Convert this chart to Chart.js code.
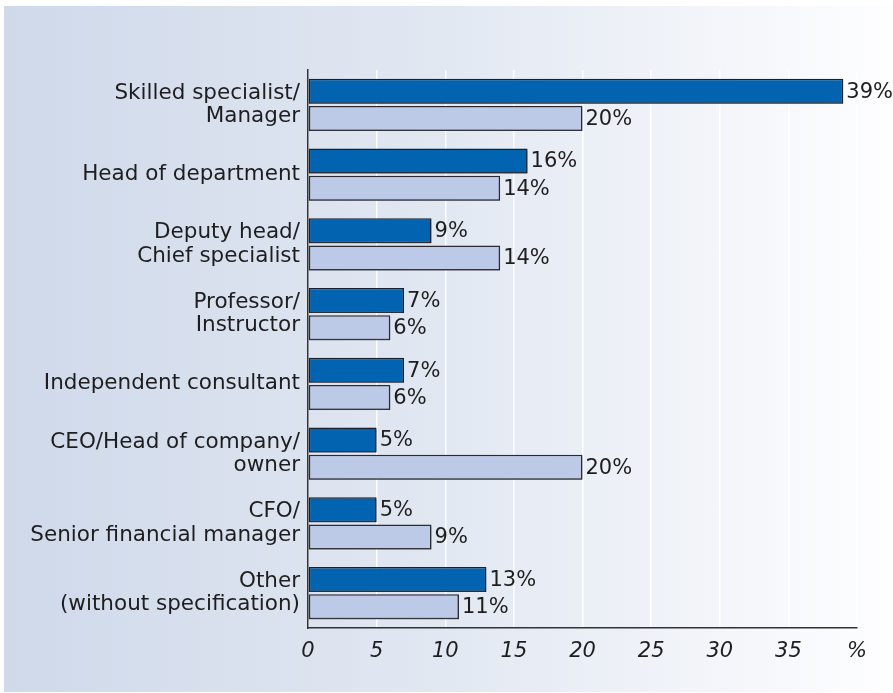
<!DOCTYPE html>
<html lang="en">
<head>
<meta charset="UTF-8">
<title>Position in company</title>
<style>
    body { margin: 0; background: #fff; }
    .panel {
        position: absolute; left: 4px; top: 6px; width: 889px; height: 686px;
        background: linear-gradient(to right, #cfd9ea 0%, #e2e8f2 50%, #fefeff 100%);
    }
    canvas { position: absolute; left: 0; top: 0; }
</style>
</head>
<body>
<div class="panel"></div>
<canvas id="chart" width="893" height="693"></canvas>

<script src="https://cdn.jsdelivr.net/npm/chart.js@4/dist/chart.umd.min.js"></script>
<script>
    const categories = [
        ['Skilled specialist/', 'Manager'],
        'Head of department',
        ['Deputy head/', 'Chief specialist'],
        ['Professor/', 'Instructor'],
        'Independent consultant',
        ['CEO/Head of company/', 'owner'],
        ['CFO/', 'Senior financial manager'],
        ['Other', '(without specification)']
    ];
    const darkValues = [39, 16, 9, 7, 7, 5, 5, 13];
    const lightValues = [20, 14, 14, 6, 6, 20, 9, 11];
    const xTickLabels = ['0', '5', '10', '15', '20', '25', '30', '35', '%'];

    const FONT = '"DejaVu Sans", sans-serif';

    // small drop shadow under the bars
    const barShadow = {
        id: 'barShadow',
        beforeDatasetsDraw(chart) {
            const ctx = chart.ctx;
            ctx.save();
            ctx.shadowColor = 'rgba(60, 60, 70, 0.55)';
            ctx.shadowOffsetX = 0;
            ctx.shadowOffsetY = 2;
            ctx.shadowBlur = 0;
        },
        afterDatasetsDraw(chart) {
            chart.ctx.restore();
        }
    };

    const valueLabels = {
        id: 'valueLabels',
        afterDatasetsDraw(chart) {
            const ctx = chart.ctx;
            ctx.save();
            ctx.font = '21px ' + FONT;
            ctx.fillStyle = '#1e1e1e';
            ctx.textBaseline = 'middle';
            chart.data.datasets.forEach((ds, i) => {
                chart.getDatasetMeta(i).data.forEach((bar, j) => {
                    ctx.fillText(ds.data[j] + '%', bar.x + 3, bar.y + 1);
                });
            });
            ctx.restore();
        }
    };

    new Chart(document.getElementById('chart'), {
        type: 'bar',
        data: {
            labels: categories,
            datasets: [{
                label: 'Series 1',
                data: darkValues,
                backgroundColor: '#0263b0',
                borderColor: '#16202e',
                borderWidth: 1.5,
                borderSkipped: false,
                categoryPercentage: 0.78,
                barPercentage: 0.92
            }, {
                label: 'Series 2',
                data: lightValues,
                backgroundColor: '#bccae8',
                borderColor: '#2a2a30',
                borderWidth: 1.5,
                borderSkipped: false,
                categoryPercentage: 0.78,
                barPercentage: 0.92
            }]
        },
        options: {
            indexAxis: 'y',
            responsive: false,
            animation: false,
            layout: { padding: { top: 70, right: 36, left: 0, bottom: 0 } },
            plugins: {
                legend: { display: false },
                tooltip: { enabled: false }
            },
            scales: {
                x: {
                    min: 0,
                    max: 40,
                    ticks: {
                        stepSize: 5,
                        padding: 11,
                        color: '#1e1e1e',
                        font: { family: FONT, size: 21, style: 'italic' },
                        callback: (v, i) => xTickLabels[i]
                    },
                    grid: { color: 'rgba(255,255,255,0.95)', lineWidth: 1.5, drawTicks: false },
                    border: { color: '#333', width: 1.5 },
                    afterFit(scale) { scale.height = 65; }
                },
                y: {
                    ticks: {
                        padding: 8,
                        color: '#1e1e1e',
                        font: { family: FONT, size: 21.5, lineHeight: 1.08 }
                    },
                    grid: { display: false, drawTicks: false },
                    border: { color: '#333', width: 1.5 },
                    afterFit(scale) { scale.width = 308; }
                }
            }
        },
        plugins: [barShadow, valueLabels]
    });
</script>
</body>
</html>
